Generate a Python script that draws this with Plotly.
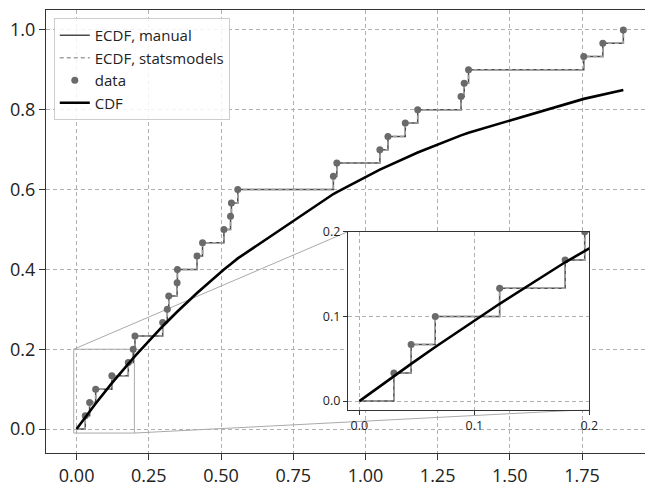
import plotly.graph_objects as go

# ---- data ----
data_x = [0.030, 0.045, 0.066, 0.122, 0.179, 0.196, 0.202, 0.298, 0.314, 0.319,
          0.348, 0.349, 0.417, 0.436, 0.510, 0.533, 0.536, 0.558, 0.889, 0.901,
          1.050, 1.078, 1.138, 1.181, 1.331, 1.342, 1.357, 1.756, 1.822, 1.893]
ecdf_y = [0.0333, 0.0667, 0.1000, 0.1333, 0.1667, 0.2000, 0.2333, 0.2667, 0.3000, 0.3333,
          0.3667, 0.4000, 0.4333, 0.4667, 0.5000, 0.5333, 0.5667, 0.6000, 0.6333, 0.6667,
          0.7000, 0.7333, 0.7667, 0.8000, 0.8333, 0.8667, 0.9000, 0.9333, 0.9667, 1.0000]
cdf_x = [0.0] + data_x
cdf_y = [0.0, 0.0296, 0.0440, 0.0639, 0.1149, 0.1639, 0.1780, 0.1829, 0.2577, 0.2695,
         0.2731, 0.2939, 0.2946, 0.3410, 0.3534, 0.3995, 0.4131, 0.4149, 0.4276, 0.5889,
         0.5938, 0.6501, 0.6597, 0.6795, 0.6930, 0.7358, 0.7387, 0.7426, 0.8273, 0.8383,
         0.8494]
step_x = [0.0] + data_x
step_y = [0.0] + ecdf_y

main_xticks = [0.0, 0.25, 0.5, 0.75, 1.0, 1.25, 1.5, 1.75]
main_xticklabels = ["0.00", "0.25", "0.50", "0.75", "1.00", "1.25", "1.50", "1.75"]
main_yticks = [0.0, 0.2, 0.4, 0.6, 0.8, 1.0]
main_yticklabels = ["0.0", "0.2", "0.4", "0.6", "0.8", "1.0"]
inset_ticks = [0.0, 0.1, 0.2]
inset_ticklabels = ["0.0", "0.1", "0.2"]

# ---- layout parameters ----
main_xrange = [-0.106, 1.968]
main_yrange = [-0.06, 1.05]
inset_xrange = [-0.01, 0.2]
inset_yrange = [-0.01, 0.2]
inset_xdom = [0.504, 0.907]
inset_ydom = [0.098, 0.4996]

FONT = "Open Sans"
GRID = "#b0b0b0"
ECDF_COL = "#4a4a4a"
SM_COL = "#a0a0a0"
DOT_COL = "#6a6a6a"
BOX_COL = "#aaaaaa"


def px2x(f):
    return main_xrange[0] + f * (main_xrange[1] - main_xrange[0])


def px2y(f):
    return main_yrange[0] + f * (main_yrange[1] - main_yrange[0])


fig = go.Figure()

# zoom indicator rectangle in main axes
rx = [inset_xrange[0], inset_xrange[1], inset_xrange[1], inset_xrange[0], inset_xrange[0]]
ry = [inset_yrange[0], inset_yrange[0], inset_yrange[1], inset_yrange[1], inset_yrange[0]]
fig.add_trace(go.Scatter(x=rx, y=ry, mode="lines", line=dict(color=BOX_COL, width=1),
                         showlegend=False, hoverinfo="skip"))
# connector lines: rect top-left -> inset top-left ; rect bottom-right -> inset bottom-right
fig.add_trace(go.Scatter(x=[inset_xrange[0], px2x(inset_xdom[0])],
                         y=[inset_yrange[1], px2y(inset_ydom[1])],
                         mode="lines", line=dict(color=BOX_COL, width=1),
                         showlegend=False, hoverinfo="skip"))
fig.add_trace(go.Scatter(x=[inset_xrange[1], px2x(inset_xdom[1])],
                         y=[inset_yrange[0], px2y(inset_ydom[0])],
                         mode="lines", line=dict(color=BOX_COL, width=1),
                         showlegend=False, hoverinfo="skip"))
# white cover under the inset (hides main gridlines)
cx0, cx1 = px2x(inset_xdom[0]), px2x(inset_xdom[1])
cy0, cy1 = px2y(inset_ydom[0]), px2y(inset_ydom[1])
fig.add_trace(go.Scatter(x=[cx0, cx1, cx1, cx0, cx0], y=[cy0, cy0, cy1, cy1, cy0],
                         mode="lines", fill="toself", fillcolor="white",
                         line=dict(width=0, color="white"),
                         showlegend=False, hoverinfo="skip"))


def add_series(xa, ya, legend):
    fig.add_trace(go.Scatter(x=step_x, y=step_y, mode="lines", line_shape="hv",
                             line=dict(color=ECDF_COL, width=1.5),
                             name="ECDF, manual", showlegend=legend,
                             xaxis=xa, yaxis=ya))
    fig.add_trace(go.Scatter(x=step_x, y=step_y, mode="lines", line_shape="hv",
                             line=dict(color=SM_COL, width=1.5, dash="4px,3px"),
                             name="ECDF, statsmodels", showlegend=legend,
                             xaxis=xa, yaxis=ya))
    fig.add_trace(go.Scatter(x=data_x, y=ecdf_y, mode="markers",
                             marker=dict(color=DOT_COL, size=7),
                             name="data", showlegend=legend,
                             xaxis=xa, yaxis=ya))
    fig.add_trace(go.Scatter(x=cdf_x, y=cdf_y, mode="lines",
                             line=dict(color="black", width=2.6),
                             name="CDF", showlegend=legend,
                             xaxis=xa, yaxis=ya))


add_series("x", "y", True)
add_series("x2", "y2", False)

axis_common = dict(showgrid=True, gridcolor=GRID, griddash="4px,3px", gridwidth=1,
                   zeroline=False, showline=True, linecolor="#333333", linewidth=1,
                   ticks="outside", tickcolor="#333333")

fig.update_layout(
    width=654, height=487,
    margin=dict(l=46, r=0, t=10, b=26),
    paper_bgcolor="white", plot_bgcolor="white",
    font=dict(family=FONT, color="#222222"),
    xaxis=dict(range=main_xrange, tickvals=main_xticks, ticktext=main_xticklabels,
               mirror=True, ticklen=6, tickfont=dict(size=18), **axis_common),
    yaxis=dict(range=main_yrange, tickvals=main_yticks, ticktext=main_yticklabels,
               mirror=False, ticklen=6, tickfont=dict(size=18), **axis_common),
    xaxis2=dict(range=inset_xrange, tickvals=inset_ticks, ticktext=inset_ticklabels,
                domain=inset_xdom, anchor="y2", mirror=True, ticklen=4,
                tickfont=dict(size=12.5), **axis_common),
    yaxis2=dict(range=inset_yrange, tickvals=inset_ticks, ticktext=inset_ticklabels,
                domain=inset_ydom, anchor="x2", mirror=True, ticklen=4,
                tickfont=dict(size=12.5), **axis_common),
    legend=dict(x=0.013, y=0.982, xanchor="left", yanchor="top",
                bgcolor="rgba(255,255,255,0.85)", bordercolor="#cccccc", borderwidth=1,
                font=dict(size=15, family=FONT, color="#222222"),
                tracegroupgap=0),
    showlegend=True,
)

fig.write_html("out.html")
